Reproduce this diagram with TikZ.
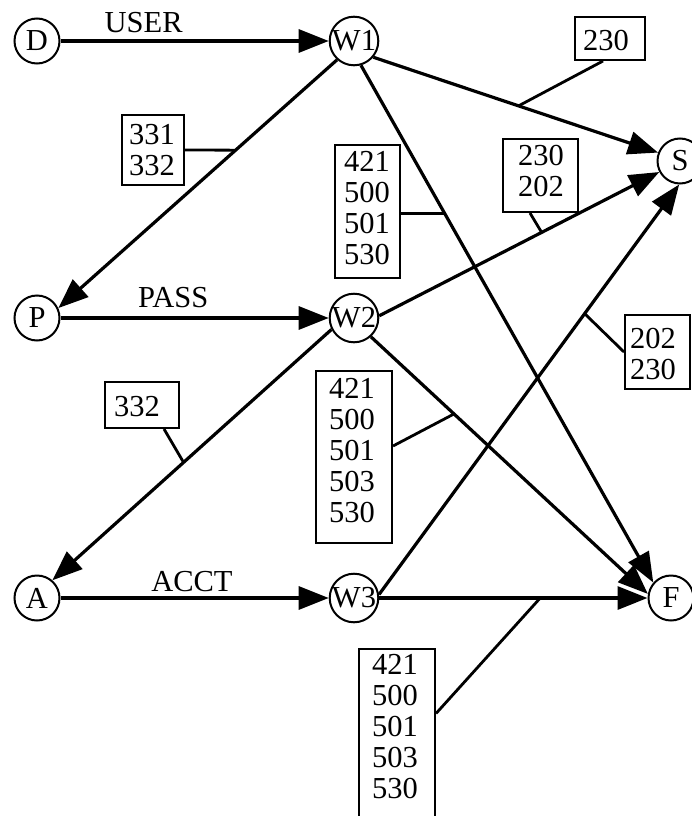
\documentclass[tikz,border=0pt]{standalone}
\usepackage{fontspec}
\setmainfont{Liberation Serif}
\usetikzlibrary{arrows.meta}
\begin{document}
\begin{tikzpicture}[x=1pt,y=-1pt,
  every node/.style={font=\fontsize{30.5}{31}\selectfont},
  state/.style={draw, circle, line width=2pt, minimum size=45pt, inner sep=0pt},
  flow/.style={line width=3.2pt, -{Triangle[length=30pt,width=23pt]}},
  tag/.style={draw, line width=2pt, anchor=north west, inner ysep=0pt, align=left},
  leader/.style={line width=2.8pt},
  elabel/.style={anchor=base, inner sep=0pt}]
\clip (0,0) rectangle (692,816);

% states
\node[state] (D)  at (37,41)   {D};
\node[state] (W1) at (354,41)  {W1};
\node[state] (S)  at (680,161) {S};
\node[state] (P)  at (37,318)  {P};
\node[state] (W2) at (354,318) {W2};
\node[state] (A)  at (37,598)  {A};
\node[state] (W3) at (354,598) {W3};
\node[state] (F)  at (671,598) {F};

% transitions
\draw[flow] (D) -- node[elabel, pos=0.31, yshift=8pt] (lu) {USER} (W1);
\draw[flow] (P) -- node[elabel, pos=0.42, yshift=11pt] (lp) {PASS} (W2);
\draw[flow] (A) -- node[elabel, pos=0.49, yshift=7pt] (la) {ACCT} (W3);
\draw[flow] (W1.228) -- coordinate[pos=0.364] (k2) (P.25);
\draw[flow] (W1.-40) -- coordinate[pos=0.51] (k3) (S.159);
\draw[flow] (W1.-74) -- coordinate[pos=0.287] (k4) (F.139);
\draw[flow] (W2.5) -- coordinate[pos=0.58] (k6) (S.208);
\draw[flow] (W2.207) -- coordinate[pos=0.53] (k7) (A.49);
\draw[flow] (W2.-48) -- coordinate[pos=0.3] (k8) (F.170);
\draw[flow] (W3.8) -- coordinate[pos=0.685] (k9) (S.-92);
\draw[flow] (W3.east) -- coordinate[pos=0.6] (k10) (F.west);

% reply-code tags
\node[tag, inner xsep=8pt, text width=54pt, text height=34pt, text depth=9pt] (b230a) at (574,16) {230};
\node[tag, inner xsep=7pt, text width=48pt, text height=29.3pt, text depth=40.7pt] (b331) at (121,114) {331\\332};
\node[tag, inner xsep=9pt, text width=47pt, text height=26pt, text depth=107pt] (b421a) at (334,144) {421\\500\\501\\530};
\node[tag, inner xsep=15pt, text width=45pt, text height=26pt, text depth=47pt, align=center] (b230b) at (502,138) {230\\202};
\node[tag, inner xsep=9pt, text width=56pt, text height=34pt, text depth=12pt] (b332) at (104,381) {332};
\node[tag, inner xsep=13pt, text width=50pt, text height=27.5pt, text depth=144.5pt] (b421b) at (315,370) {421\\500\\501\\503\\530};
\node[tag, inner xsep=5pt, text width=55pt, text height=33pt, text depth=41pt] (b202) at (624,314) {202\\230};
\node[tag, inner xsep=13pt, text width=50pt, text height=25pt, text depth=146pt] (b421c) at (358,648) {421\\500\\501\\503\\530};

% leaders from tags to transitions
\draw[leader] ([xshift=-7pt]b230a.south) -- (k3);
\draw[leader] (b331.east) -- (k2);
\draw[leader] (b421a.east |- k4) -- (k4);
\draw[leader] ([xshift=-10.5pt]b230b.south) -- (k6);
\draw[leader] ([xshift=22pt]b332.south) -- (k7);
\draw[leader] ([yshift=11pt]b421b.east) -- (k8);
\draw[leader] (b202.west) -- (k9);
\draw[leader] ([yshift=21pt]b421c.east) -- (k10);
\end{tikzpicture}
\end{document}
